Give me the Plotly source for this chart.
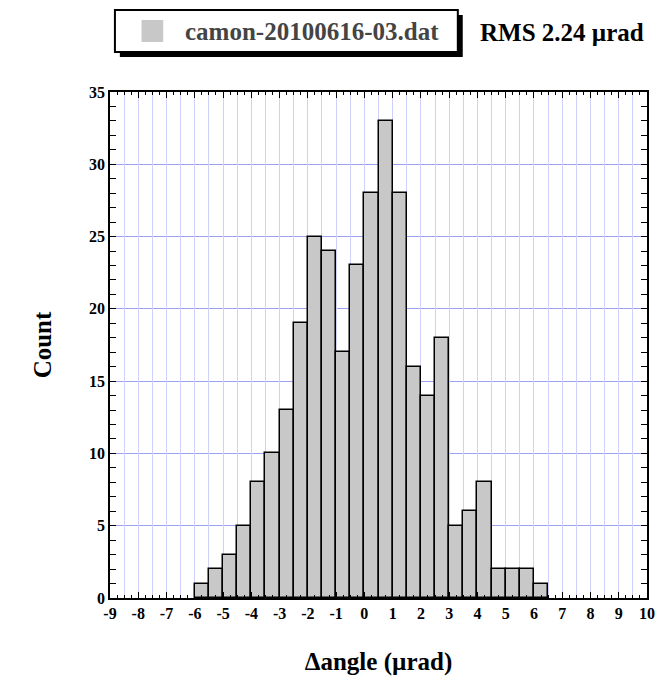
import plotly.graph_objects as go

# Histogram data: bin left edges (width 0.5) and counts
bin_left = [-6.0, -5.5, -5.0, -4.5, -4.0, -3.5, -3.0, -2.5, -2.0, -1.5, -1.0, -0.5,
            0.0, 0.5, 1.0, 1.5, 2.0, 2.5, 3.0, 3.5, 4.0, 4.5, 5.0, 5.5, 6.0]
counts = [1, 2, 3, 5, 8, 10, 13, 19, 25, 24, 17, 23,
          28, 33, 28, 16, 14, 18, 5, 6, 8, 2, 2, 2, 1]
bin_width = 0.5
x_tick_vals = list(range(-9, 11))
y_tick_vals = [0, 5, 10, 15, 20, 25, 30, 35]
series_name = "camon-20100616-03.dat"
rms_text = "RMS 2.24 µrad"

W, H = 667, 684
ML, MR, MT, MB = 110, 12, 92, 86
pw, ph = W - ML - MR, H - MT - MB

FONT = "Liberation Serif"
BAR_FILL = "#c8c8c8"


def px_x(p):
    return (p - ML) / pw


def px_y(p):
    return 1 + (MT - p) / ph


fig = go.Figure()
fig.add_trace(go.Bar(
    x=[b + bin_width / 2 for b in bin_left], y=counts, width=bin_width,
    name=series_name, showlegend=False,
    marker=dict(color=BAR_FILL, line=dict(color="black", width=1.5)),
    xaxis="x", yaxis="y",
))
# invisible trace to hold the half-step grid overlay axis
fig.add_trace(go.Scatter(x=[-9, 10], y=[0, 0], xaxis="x2", yaxis="y",
                         mode="markers", marker=dict(opacity=0), showlegend=False,
                         hoverinfo="skip"))

fig.update_layout(
    width=W, height=H,
    margin=dict(l=ML, r=MR, t=MT, b=MB),
    plot_bgcolor="white", paper_bgcolor="white",
    bargap=0,
    font=dict(family=FONT, color="black"),
    showlegend=False,
    xaxis=dict(
        range=[-9, 10], tickvals=x_tick_vals, ticktext=[str(v) for v in x_tick_vals],
        showgrid=True, gridcolor="#9ea2f4", gridwidth=1.3,
        zeroline=False, showline=True, linecolor="black", linewidth=1.5, mirror="allticks",
        ticks="inside", ticklen=6, tickcolor="black", tickwidth=1,
        minor=dict(dtick=0.25, tick0=0, ticks="inside", ticklen=3, tickcolor="black", showgrid=False),
        tickfont=dict(family=FONT, size=16, weight="bold"),
        title=dict(text="Δangle (µrad)", font=dict(family=FONT, size=25, weight="bold"), standoff=32),
    ),
    xaxis2=dict(
        range=[-9, 10], overlaying="x", matches="x", dtick=0.5, tick0=0,
        showgrid=True, gridcolor="#cfd1fa", gridwidth=1.3,
        showticklabels=False, ticks="", zeroline=False, showline=False,
    ),
    yaxis=dict(
        range=[0, 35], tickvals=y_tick_vals,
        showgrid=True, gridcolor="#9ea2f4", gridwidth=1.3,
        zeroline=False, showline=True, linecolor="black", linewidth=1.5, mirror="allticks",
        ticks="inside", ticklen=6, tickcolor="black", tickwidth=1,
        minor=dict(dtick=1, ticks="inside", ticklen=3, tickcolor="black", showgrid=False),
        tickfont=dict(family=FONT, size=16, weight="bold"),
        title=dict(text="Count", font=dict(family=FONT, size=25, weight="bold"), standoff=30),
    ),
)

# Legend box drawn manually: shadow, box, symbol, text
fig.add_shape(type="rect", xref="paper", yref="paper",
              x0=px_x(120), x1=px_x(468), y0=px_y(57), y1=px_y(15),
              fillcolor="black", line=dict(width=0), layer="above")
fig.add_shape(type="rect", xref="paper", yref="paper",
              x0=px_x(115), x1=px_x(463), y0=px_y(52), y1=px_y(10),
              fillcolor="white", line=dict(color="black", width=2), layer="above")
fig.add_shape(type="rect", xref="paper", yref="paper",
              x0=px_x(142), x1=px_x(164), y0=px_y(42), y1=px_y(20),
              fillcolor=BAR_FILL, line=dict(width=0), layer="above")
fig.add_annotation(
    text=series_name, xref="paper", yref="paper",
    x=px_x(184), y=px_y(31), xanchor="left", yanchor="middle",
    showarrow=False, font=dict(family=FONT, size=25, color="#444444", weight="bold"),
)

fig.add_annotation(
    text="<b>" + rms_text + "</b>", xref="paper", yref="paper",
    x=px_x(483), y=px_y(32), xanchor="left", yanchor="middle",
    showarrow=False, font=dict(family=FONT, size=25, color="black"),
)

fig.write_html("out.html")
